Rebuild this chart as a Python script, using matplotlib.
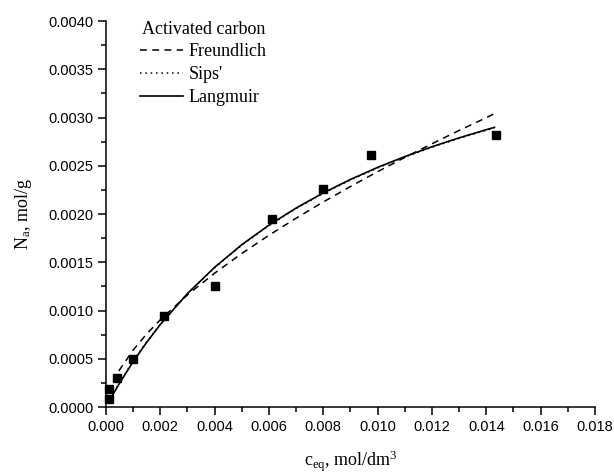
import matplotlib
matplotlib.use("Agg")
import matplotlib.pyplot as plt
from matplotlib.ticker import MultipleLocator, FormatStrFormatter
from matplotlib.lines import Line2D

# experimental points
c_exp = [0.00012, 0.00012, 0.00039, 0.00100, 0.00213, 0.00400, 0.00610, 0.00800, 0.00976, 0.01435]
n_exp = [0.00008, 0.000187, 0.000304, 0.000494, 0.000943, 0.00125, 0.00195, 0.002256, 0.002615, 0.00282]

# model curves
c_fit = [0.0001, 0.0002, 0.0005, 0.001, 0.0015, 0.002, 0.003, 0.004, 0.005, 0.006,
         0.007, 0.008, 0.009, 0.010, 0.011, 0.012, 0.013, 0.014, 0.0143]
freundlich = [0.000143, 0.000219, 0.000385, 0.000590, 0.000758, 0.000904, 0.001162, 0.001387,
              0.001591, 0.001780, 0.001957, 0.002125, 0.002285, 0.002439, 0.002586, 0.002728,
              0.002866, 0.002998, 0.003041]
langmuir = [0.000052, 0.000103, 0.000247, 0.000470, 0.000671, 0.000855, 0.001176, 0.001448,
            0.001682, 0.001885, 0.002062, 0.002219, 0.002358, 0.002483, 0.002595, 0.002697,
            0.002789, 0.002874, 0.002898]
sips = [0.000056, 0.000108, 0.000252, 0.000476, 0.000676, 0.000858, 0.001176, 0.001445,
        0.001678, 0.001880, 0.002057, 0.002214, 0.002353, 0.002478, 0.002590, 0.002692,
        0.002784, 0.002868, 0.002892]

serif = "Liberation Serif"
plt.rcParams["mathtext.fontset"] = "custom"
plt.rcParams["mathtext.rm"] = serif
plt.rcParams["mathtext.it"] = serif + ":italic"

fig = plt.figure(figsize=(6.14, 4.73), dpi=100)
ax = fig.add_axes([0.1726, 0.1395, 0.7964, 0.8161])

dash = (0, (4.5, 3.5))
dots = (0, (1, 2.5))
ax.plot(c_fit, freundlich, color="black", lw=1.1, ls=dash)
ax.plot(c_fit, sips, color="black", lw=1.1, ls=dots)
ax.plot(c_fit, langmuir, color="black", lw=1.2, ls="-")
ax.plot(c_exp, n_exp, ls="none", marker="s", ms=5.5, color="black", clip_on=False, zorder=5)

ax.set_xlim(0, 0.018)
ax.set_ylim(0, 0.004)
ax.xaxis.set_major_locator(MultipleLocator(0.002))
ax.xaxis.set_minor_locator(MultipleLocator(0.001))
ax.yaxis.set_major_locator(MultipleLocator(0.0005))
ax.yaxis.set_minor_locator(MultipleLocator(0.00025))
ax.xaxis.set_major_formatter(FormatStrFormatter("%.3f"))
ax.yaxis.set_major_formatter(FormatStrFormatter("%.4f"))

for s in ["top", "right"]:
    ax.spines[s].set_visible(False)
for s in ["left", "bottom"]:
    ax.spines[s].set_linewidth(1.1)

ax.tick_params(which="major", direction="out", length=6, width=1.1,
               labelsize=10.5, pad=3)
ax.tick_params(which="minor", direction="out", length=3.5, width=1.1)
for lab in ax.get_xticklabels() + ax.get_yticklabels():
    lab.set_fontfamily("Liberation Sans")

ax.set_xlabel(r"c$_{\rm eq}$, mol/dm$^{\rm 3}$", fontfamily=serif, fontsize=13, labelpad=11)
ax.set_ylabel(r"N$_{\rm a}$, mol/g", fontfamily=serif, fontsize=13, labelpad=10)

handles = [Line2D([], [], color="black", lw=1.1, ls=dash),
           Line2D([], [], color="black", lw=1.1, ls=dots),
           Line2D([], [], color="black", lw=1.2, ls="-")]
leg = ax.legend(handles, ["Freundlich", "Sips'", "Langmuir"], title="Activated carbon",
                loc="upper left", bbox_to_anchor=(0.055, 1.02), frameon=False,
                prop={"family": serif, "size": 13}, handlelength=2.4,
                handletextpad=0.3, labelspacing=0.33, borderaxespad=0.0)
leg.get_title().set_fontfamily(serif)
leg.get_title().set_fontsize(13)

fig.savefig("out.png", dpi=100)
